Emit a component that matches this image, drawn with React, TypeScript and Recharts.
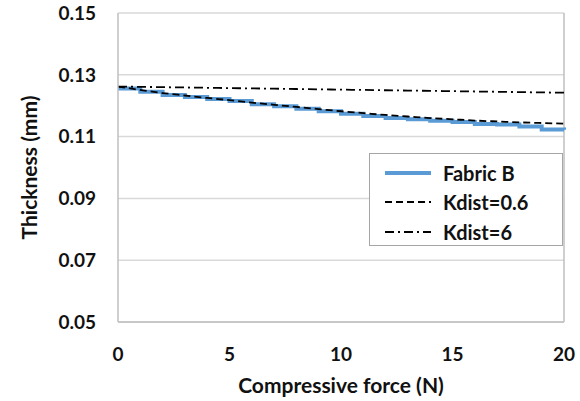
import React from 'react';
import { LineChart, Line, XAxis, YAxis, CartesianGrid, Label, ReferenceLine } from 'recharts';

// Compressive force (N)
const force = [0, 1, 2, 3, 4, 5, 6, 7, 8, 9, 10, 11, 12, 13, 14, 15, 16, 17, 18, 19, 20];

// Thickness (mm)
const fabricB = [0.1256, 0.1245, 0.1235, 0.1228, 0.1222, 0.1215, 0.1205, 0.1198, 0.119, 0.1182, 0.1174,
  0.1167, 0.116, 0.1156, 0.1151, 0.1147, 0.1141, 0.1139, 0.1133, 0.1123, 0.1122];
const kdist06 = [0.1262, 0.1251, 0.1241, 0.1233, 0.1225, 0.1218, 0.121, 0.1203, 0.1196, 0.1189, 0.1182,
  0.1176, 0.117, 0.1165, 0.116, 0.1156, 0.1152, 0.1149, 0.1146, 0.1144, 0.1142];
const kdist6 = [0.1262, 0.1261, 0.126, 0.1259, 0.1258, 0.1257, 0.1256, 0.1255, 0.1254, 0.1253, 0.1252,
  0.1251, 0.125, 0.1249, 0.1248, 0.1247, 0.1246, 0.1245, 0.1244, 0.1243, 0.1242];

const yTicks = [0.05, 0.07, 0.09, 0.11, 0.13, 0.15];
const xTicks = [0, 5, 10, 15, 20];

const data = force.map((f, i) => ({ f, fabricB: fabricB[i], k06: kdist06[i], k6: kdist6[i] }));

const font = 'Lato, "Open Sans", sans-serif';

const legendItems = [
  { name: 'Fabric B', stroke: '#5b9bd5', width: 4, dash: undefined },
  { name: 'Kdist=0.6', stroke: '#000', width: 1.8, dash: '7 4' },
  { name: 'Kdist=6', stroke: '#000', width: 1.8, dash: '9 4 2 4' },
];

// legend drawn as an overlay so it doesn't shrink the plot area
const LegendBox = () => (
  <div style={{
    position: 'absolute', left: 369, top: 153, background: '#fff', border: '1.5px solid #a6a6a6',
    width: 194, height: 93, boxSizing: 'border-box', padding: '4px 0 0 15px',
    fontFamily: font, fontWeight: 700, fontSize: 20,
  }}>
    {legendItems.map(it => (
      <div key={it.name} style={{ display: 'flex', alignItems: 'center', height: 29.5 }}>
        <svg width={46} height={10} style={{ marginRight: 12 }}>
          <line x1={0} y1={5} x2={46} y2={5} stroke={it.stroke} strokeWidth={it.width} strokeDasharray={it.dash} />
        </svg>
        <span style={{ color: '#111' }}>{it.name}</span>
      </div>
    ))}
  </div>
);

export default function App() {
  const tickStyle = { fill: '#111', fontSize: 19, fontWeight: 700, fontFamily: font };
  const titleStyle = { fill: '#111', fontSize: 21, fontWeight: 700, fontFamily: font };
  return (
    <div style={{ position: 'absolute', left: 0, top: 0, width: 580, height: 401, background: '#fff' }}>
      <LineChart width={580} height={401} data={data} margin={{ top: 13, right: 16, left: 0, bottom: 0 }}>
        <CartesianGrid vertical={false} stroke="#d9d9d9" strokeWidth={1.5} />
        <XAxis
          dataKey="f" type="number" domain={[0, 20]} ticks={xTicks} height={79}
          stroke="#bfbfbf" strokeWidth={1.5} tickLine={false} tickMargin={20} tick={tickStyle}
        >
          <Label value="Compressive force (N)" position="insideBottom" offset={8} style={titleStyle} />
        </XAxis>
        <YAxis
          type="number" domain={[0.05, 0.15]} ticks={yTicks} width={118}
          stroke="#bfbfbf" strokeWidth={1.5} tickLine={false} tickMargin={16} tick={tickStyle}
          tickFormatter={(v: number) => v.toFixed(2)}
        >
          <Label value="Thickness (mm)" angle={-90} position="center" dx={-29} style={titleStyle} />
        </YAxis>
        <ReferenceLine x={20} stroke="#bfbfbf" strokeWidth={1.5} />
        <Line dataKey="fabricB" name="Fabric B" type="stepAfter" stroke="#5b9bd5" strokeWidth={4} dot={false} isAnimationActive={false} />
        <Line dataKey="k06" name="Kdist=0.6" type="monotone" stroke="#000" strokeWidth={1.8} strokeDasharray="7 4" dot={false} isAnimationActive={false} />
        <Line dataKey="k6" name="Kdist=6" type="monotone" stroke="#000" strokeWidth={1.8} strokeDasharray="9 4 2 4" dot={false} isAnimationActive={false} />
      </LineChart>
      <LegendBox />
    </div>
  );
}
